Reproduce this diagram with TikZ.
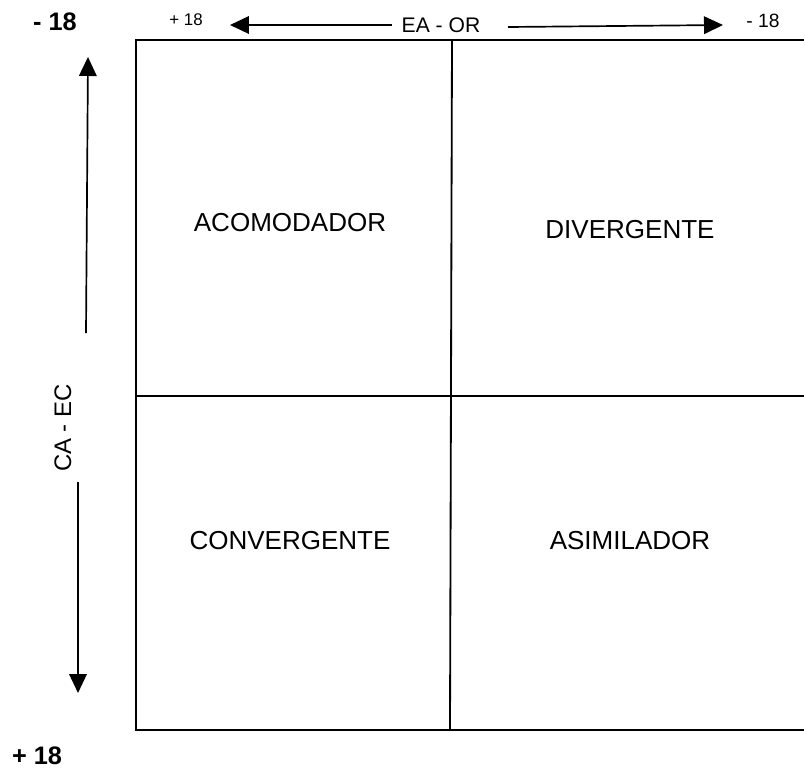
\documentclass[tikz,border=0pt]{standalone}
\usepackage{fontspec}
\setmainfont{Liberation Sans}
\usetikzlibrary{arrows.meta}

\begin{document}
\begin{tikzpicture}[x=0.025cm,y=-0.025cm,
    frame/.style={line width=1.3pt},
    axis/.style={line width=1.2pt,-{Triangle[length=13.5pt,width=12.5pt]}},
    quadlabel/.style={font=\fontsize{18.5}{20}\selectfont},
    axislabel/.style={font=\fontsize{15}{17}\selectfont},
    bigend/.style={font=\bfseries\fontsize{18}{20}\selectfont},
    smallend/.style={font=\fontsize{12}{14}\selectfont}]
  \useasboundingbox (0,0) rectangle (804,772);

  % frame and quadrants
  \draw[frame] (804,40) -- (136,40) -- (136,730) -- (804,730);
  \draw[frame] (452,40) -- (450,730);
  \draw[frame] (136,396) -- (804,396);

  \node[quadlabel] (acomodador) at (290,223) {ACOMODADOR};
  \node[quadlabel] (divergente) at (630,230) {DIVERGENTE};
  \node[quadlabel] (convergente) at (290,541) {CONVERGENTE};
  \node[quadlabel] (asimilador) at (630,541) {ASIMILADOR};

  % horizontal axis
  \node[smallend] (eaplus) at (186,20) {+ 18};
  \node[axislabel] (eaor) at (441,25) {EA - OR};
  \node[font=\fontsize{13.7}{15}\selectfont] (eaminus) at (763,21) {- 18};
  \coordinate (ealeft) at (392,25);
  \coordinate (eatipleft) at (230,25);
  \coordinate (earight) at (508,27);
  \coordinate (eatipright) at (723,25);
  \draw[axis] (ealeft) -- (eatipleft);
  \draw[axis] (earight) -- (eatipright);

  % vertical axis
  \node[bigend] (caminus) at (55,22) {- 18};
  \node[bigend] (caplus) at (37,756) {+ 18};
  \node[axislabel,font=\fontsize{17}{19}\selectfont,rotate=90] (caec) at (63,428) {CA - EC};
  \coordinate (catop) at (86,333);
  \coordinate (catiptop) at (88,57);
  \coordinate (cabottom) at (78,482);
  \coordinate (catipbottom) at (78,693);
  \draw[axis] (catop) -- (catiptop);
  \draw[axis] (cabottom) -- (catipbottom);
\end{tikzpicture}
\end{document}
